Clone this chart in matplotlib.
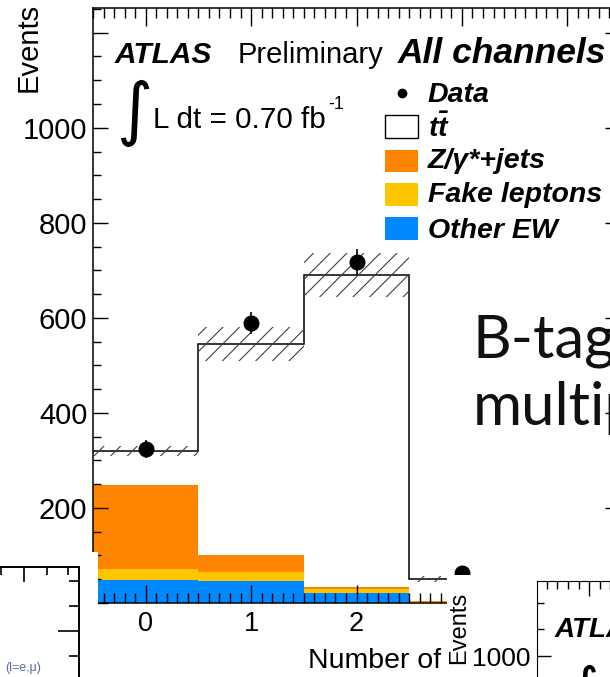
import matplotlib
matplotlib.use("Agg")
import numpy as np
import matplotlib.pyplot as plt
from matplotlib.patches import Rectangle
from matplotlib.lines import Line2D
from matplotlib.ticker import MultipleLocator, FixedLocator, NullFormatter

plt.rcParams['font.family'] = ['Liberation Sans', 'DejaVu Sans']
plt.rcParams['mathtext.fontset'] = 'custom'
plt.rcParams['mathtext.rm'] = 'Liberation Sans'
plt.rcParams['mathtext.it'] = 'Liberation Sans:italic'
plt.rcParams['mathtext.bf'] = 'Liberation Sans:bold'
plt.rcParams['mathtext.bfit'] = 'Liberation Sans:bold:italic'
plt.rcParams['hatch.linewidth'] = 0.8

# b-tag multiplicity, all dilepton channels
nbtag = [0, 1, 2, 3]
data = [324, 589, 718, 63]
data_err = [18, 24, 27, 8]
ttbar = [72, 444, 656, 46]
zjets = [176, 36, 5, 1]
fakes = [24, 19, 8, 2]
other_ew = [48, 46, 21, 1]
syst = [11, 36, 47, 6]

yticks = [0, 200, 400, 600, 800, 1000, 1200]
ytick_labels = ['0', '200', '400', '600', '800', '1000', '']

c_z = '#ff8400'
c_fake = '#ffc600'
c_ew = '#0088ff'

W, H = 610, 677
fig = plt.figure(figsize=(W / 100, H / 100), dpi=100)


def fx(x):
    return x / W


def fy(y):
    return 1 - y / H


# main histogram
ax = fig.add_axes([fx(93), fy(603), (620 - 93) / W, (603 - 8) / H])
x = np.array(nbtag)
b1 = np.array(other_ew)
b2 = b1 + np.array(fakes)
b3 = b2 + np.array(zjets)
total = b3 + np.array(ttbar)

ax.bar(x, other_ew, width=1, color=c_ew, lw=0, zorder=1)
ax.bar(x, fakes, bottom=b1, width=1, color=c_fake, lw=0, zorder=1)
ax.bar(x, zjets, bottom=b2, width=1, color=c_z, lw=0, zorder=1)
ax.stairs(total, np.arange(-0.5, len(x)), baseline=None, color='black', lw=1.1, zorder=2)
ax.bar(x, 2 * np.array(syst), bottom=total - np.array(syst), width=1, fill=False,
       hatch='//', edgecolor='#404040', lw=0, zorder=3)
ax.errorbar(x, data, yerr=data_err, fmt='o', color='black', ms=10.5,
            elinewidth=1.2, capsize=0, zorder=5)

ax.set_xlim(-0.5, 4.5)
ax.set_ylim(0, 1252)
ax.set_xticks([0, 1, 2, 3, 4])
ax.xaxis.set_minor_locator(MultipleLocator(0.1))
ax.set_yticks(yticks)
ax.set_yticklabels(ytick_labels)
ax.yaxis.set_minor_locator(MultipleLocator(50))
ax.tick_params(axis='x', which='both', direction='in', top=True, width=1, labelsize=19.5, pad=6)
ax.tick_params(axis='x', which='major', length=13)
ax.tick_params(axis='x', which='minor', length=7)
ax.tick_params(axis='y', which='both', direction='in', right=True, width=1, labelsize=21, pad=4)
ax.tick_params(axis='y', which='major', length=11)
ax.tick_params(axis='y', which='minor', length=5.5)
for s in ax.spines.values():
    s.set_linewidth(1.1)

fig.text(fx(29), fy(3), 'Events', rotation=90, ha='center', va='top', fontsize=21)
fig.text(fx(308), fy(668), 'Number of b-tagged jets', ha='left', va='baseline',
         fontsize=20.5, zorder=0.5)

# ATLAS labels
fig.text(fx(115), fy(63), 'ATLAS', fontsize=21.5, fontweight='bold', style='italic', va='baseline')
fig.text(fx(238), fy(63), 'Preliminary', fontsize=21, va='baseline')
fig.text(fx(398), fy(63), 'All channels', fontsize=25.5, fontweight='bold', style='italic',
         va='baseline')
fig.text(fx(134), fy(113), '\u222b', fontsize=50, family=['DejaVu Sans'], ha='center', va='center')
fig.text(fx(153), fy(128), 'L dt = 0.70 fb', fontsize=21.3, va='baseline')
fig.text(fx(328), fy(109), '-1', fontsize=13, va='baseline')

# legend
fig.add_artist(Line2D([fx(402)], [fy(93)], marker='o', color='black', ms=6,
                      transform=fig.transFigure))
leg_boxes = [('white', 115, 138), (c_z, 150, 172), (c_fake, 183, 206), (c_ew, 217, 240)]
for col, y0, y1 in leg_boxes:
    fig.add_artist(Rectangle((fx(385), fy(y1)), 33 / W, (y1 - y0) / H,
                             facecolor=col, edgecolor='black' if col == 'white' else 'none',
                             lw=1, transform=fig.transFigure))
leg_labels = ['Data', r'$\mathbfit{t\bar{t}}$', 'Z/\u03b3*+jets', 'Fake leptons', 'Other EW']
leg_base = [102, 137, 168, 202, 238]
for lab, yb in zip(leg_labels, leg_base):
    fig.text(fx(428), fy(yb), lab, fontsize=20.5, fontweight='bold', style='italic', va='baseline')

# slide title overlapping the plot
fig.text(fx(473), fy(358), 'B-tag', fontsize=43, family=['Lato', 'DejaVu Sans'],
         fontweight='normal', va='baseline', color='#111111')
fig.text(fx(473), fy(425), 'multiplicity', fontsize=43, family=['Lato', 'DejaVu Sans'],
         fontweight='normal', va='baseline', color='#111111')

# neighbouring plot, bottom left
fig.add_artist(Rectangle((0, 0), fx(98), fy(552), facecolor='white', edgecolor='none',
                         transform=fig.transFigure, zorder=1))
ax_bl = fig.add_axes([fx(-300), fy(900), 379 / W, (900 - 567) / H])
ax_bl.set_zorder(2)
ax_bl.set_facecolor('none')
ax_bl.set_xlim(-300, 79)
ax_bl.set_ylim(900, 567)
ax_bl.spines['left'].set_visible(False)
ax_bl.spines['bottom'].set_visible(False)
ax_bl.xaxis.set_ticks_position('top')
ax_bl.yaxis.set_ticks_position('right')
ax_bl.xaxis.set_major_locator(FixedLocator([24]))
ax_bl.xaxis.set_minor_locator(FixedLocator([1, 47, 68]))
ax_bl.yaxis.set_major_locator(FixedLocator([631]))
ax_bl.yaxis.set_minor_locator(FixedLocator([581, 606, 656]))
ax_bl.xaxis.set_major_formatter(NullFormatter())
ax_bl.yaxis.set_major_formatter(NullFormatter())
ax_bl.tick_params(which='both', direction='in', width=1.2)
ax_bl.tick_params(axis='x', which='major', length=11)
ax_bl.tick_params(axis='x', which='minor', length=6)
ax_bl.tick_params(axis='y', which='major', length=15)
ax_bl.tick_params(axis='y', which='minor', length=7.5)
for s in ax_bl.spines.values():
    s.set_linewidth(1.4)
fig.text(fx(5), fy(668), '(l=e,\u03bc)', fontsize=9, color='#5a6aa8', va='center', zorder=3)

# neighbouring plot, bottom right
fig.add_artist(Rectangle((fx(447), 0), 1 - fx(447), fy(575), facecolor='white',
                         edgecolor='none', transform=fig.transFigure, zorder=1))
ax_br = fig.add_axes([fx(537), fy(900), 363 / W, (900 - 581) / H])
ax_br.set_zorder(2)
ax_br.set_facecolor('none')
ax_br.set_xlim(537, 900)
ax_br.set_ylim(900, 581)
ax_br.spines['right'].set_visible(False)
ax_br.spines['bottom'].set_visible(False)
ax_br.xaxis.set_ticks_position('top')
ax_br.xaxis.set_major_locator(FixedLocator([589]))
ax_br.xaxis.set_minor_locator(FixedLocator([547, 557, 568, 579, 600, 610]))
ax_br.xaxis.set_major_formatter(NullFormatter())
ax_br.yaxis.set_major_locator(FixedLocator([656]))
ax_br.yaxis.set_minor_locator(FixedLocator([603, 629]))
ax_br.set_yticklabels(['1000'])
ax_br.tick_params(which='both', direction='in', width=1)
ax_br.tick_params(axis='x', which='major', length=11)
ax_br.tick_params(axis='x', which='minor', length=6)
ax_br.tick_params(axis='y', which='major', length=10, labelsize=19, pad=5)
ax_br.tick_params(axis='y', which='minor', length=5)
fig.text(fx(459), fy(628), 'Events', rotation=90, ha='center', va='center', fontsize=17, zorder=3)
fig.text(fx(555), fy(637), 'ATLAS', fontsize=20, fontweight='bold', style='italic',
         va='baseline', zorder=3)
fig.text(fx(584), fy(665), '\u222b', fontsize=40, family=['DejaVu Sans'], ha='center',
         va='top', zorder=3)

fig.savefig('out.png', dpi=100)
